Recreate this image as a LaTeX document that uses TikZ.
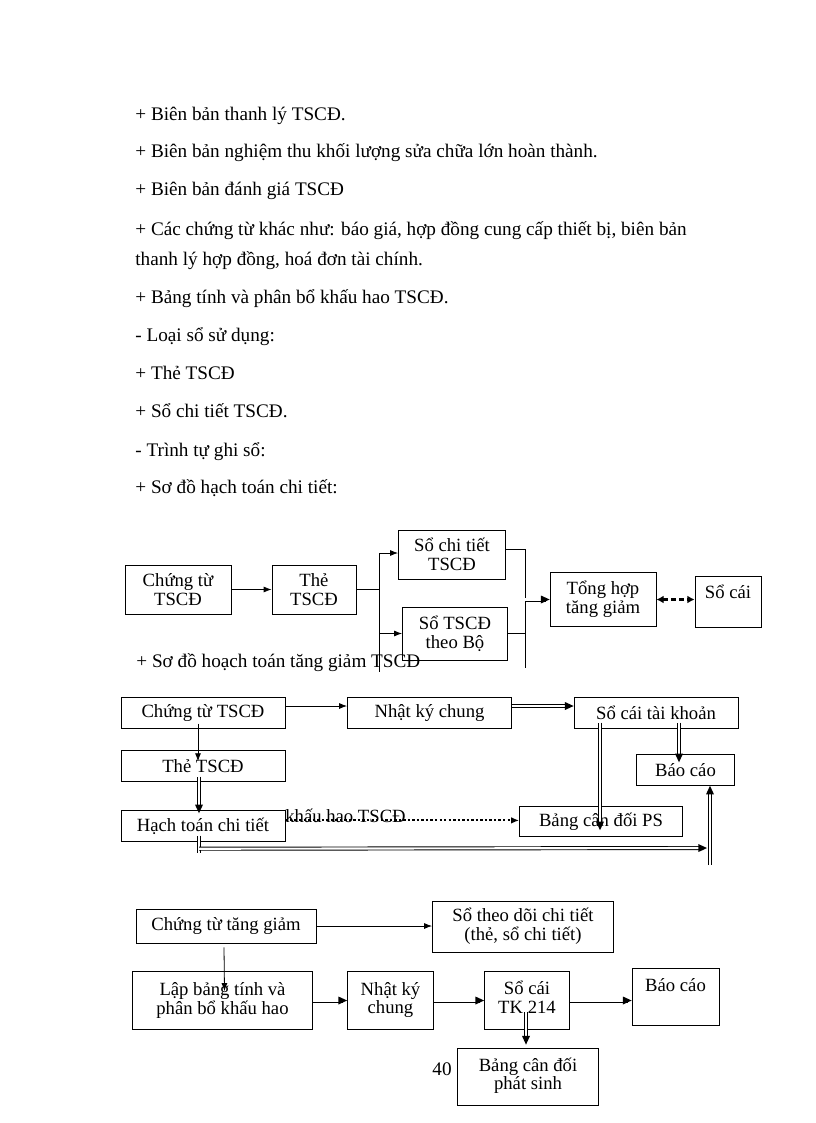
\documentclass[tikz,border=0pt]{standalone}
\usepackage{fontspec}
\setmainfont{Liberation Serif}
\usetikzlibrary{calc,arrows.meta,decorations.markings}

\begin{document}
\begin{tikzpicture}[
            x=0.75pt, y=-0.75pt,
            font=\fontsize{14}{14}\selectfont,
            line width=0.6pt,
            arr/.style={-{Latex[length=6pt,width=4.5pt]}},
            dbl/.style={double, double distance=1.6pt, line width=0.7pt},
            dblarr/.style={dbl, shorten >=3pt, postaction={draw=none, decorate, decoration={markings, mark=at position 1 with {\fill (0,0) -- (-6.5pt,3pt) -- (-6.5pt,-3pt) -- cycle;}}}},
            dasharr/.style={line width=1.7pt, dash pattern=on 3.5pt off 2.5pt, {Latex[length=5.5pt,width=6pt]}-{Latex[length=5.5pt,width=6pt]}},
            dotarr/.style={line width=1.4pt, dash pattern=on 1.8pt off 1.6pt, -{Latex[length=6pt,width=5pt]}},
            txt/.style={anchor=base west, inner sep=0pt, font=\fontsize{14.4}{14.4}\selectfont}
        ]
            \useasboundingbox (0,0) rectangle (816,1123);

            % text above the diagrams
            \node [txt] (p1)  at (135,121) {+ Biên bản thanh lý TSCĐ.};
            \node [txt] (p2)  at (135,158) {+ Biên bản nghiệm thu khối lượng sửa chữa lớn hoàn thành.};
            \node [txt] (p3)  at (135,196) {+ Biên bản đánh giá TSCĐ};
            \node [txt] (p4)  at (135,235) {+ Các chứng từ khác như: báo giá, hợp đồng cung cấp thiết bị, biên bản};
            \node [txt] (p5)  at (135,265) {thanh lý hợp đồng, hoá đơn tài chính.};
            \node [txt] (p6)  at (135,303) {+ Bảng tính và phân bổ khấu hao TSCĐ.};
            \node [txt] (p7)  at (135,341) {- Loại sổ sử dụng:};
            \node [txt] (p8)  at (135,379) {+ Thẻ TSCĐ};
            \node [txt] (p9)  at (135,417) {+ Sổ chi tiết TSCĐ.};
            \node [txt] (p10) at (135,456) {- Trình tự ghi sổ:};
            \node [txt] (p11) at (135,493) {+ Sơ đồ hạch toán chi tiết:};

            % first diagram
            \begin{scope}[
                every node/.style={draw,align=center,inner sep=1pt}
            ]
                \node (c1) [minimum width=79.5pt,minimum height=36.75pt] at (178,589.5) {Chứng từ\\TSCĐ};
                \node (t1) [minimum width=63pt,minimum height=36.75pt]   at (314,589.5) {Thẻ\\TSCĐ};
                \node (s1) [minimum width=80.25pt,minimum height=36.75pt] at (452,554.5) {Sổ chi tiết\\TSCĐ};
                \node (s2) [minimum width=78.75pt,minimum height=39.75pt] at (455,633.5) {Sổ TSCĐ\\theo Bộ};
                \node (th) [minimum width=79.5pt,minimum height=40.5pt]  at (603,599.5) {Tổng hợp\\tăng giảm};
                \node (sc) [minimum width=49.5pt,minimum height=38.25pt,text height=10pt,text depth=14.5pt] at (728,601.5) {Sổ cái};
            \end{scope}
            \coordinate (b1t) at (379,553);
            \coordinate (b1b) at (379,672);
            \coordinate (b2t) at (525,549);
            \coordinate (b2b) at (525,668);
            \draw [arr]     (c1) -- (t1);
            \draw           (t1.east) -- (t1.east -| b1t);
            \draw           (b1t) -- (b1b);
            \draw [arr]     (b1t) -- (b1t -| s1.west);
            \draw [arr]     (s2.west -| b1t) -- (s2.west);
            \draw           (s1.east |- b2t) -- (b2t);
            \draw           (s2.east) -- (s2.east -| b2t);
            \draw           (b2t) -- (b2b);
            \draw [dblarr]  (th.west -| b2t) -- (th.west);
            \draw [dasharr] (th.east) -- (th.east -| sc.west);
            \node [txt] (p12) at (136,667) {+ Sơ đồ hoạch toán tăng giảm TSCĐ};

            % second diagram
            \begin{scope}[
                every node/.style={draw,align=center,inner sep=1pt,minimum width=123pt,minimum height=23pt}
            ]
                \node (ct2) at (203,713)              {Chứng từ TSCĐ};
                \node (nk2) at (429.5,713)            {Nhật ký chung};
                \node (sc2) at (656,713)              {Sổ cái tài khoản};
                \node (th2) at (203,766)              {Thẻ TSCĐ};
                \node (hc2) at (203,826)              {Hạch toán chi tiết};
                \node (bp2) [minimum width=122.25pt] at (601,821.5) {Bảng cân đối PS};
                \node (bc2) [minimum width=73.5pt]   at (685.5,770) {Báo cáo};
            \end{scope}
            \node [txt,font=\fontsize{14}{14}\selectfont] (kh) at (285,822) {khấu hao TSCĐ};
            \coordinate (hcb) at (199,853);
            \coordinate (hr)  at (707,848);
            \coordinate (rb)  at (710,865);
            \draw [arr]    ([yshift=5.25pt]ct2.east) -- ([yshift=5.25pt]nk2.west);
            \draw [dblarr] ([yshift=5.25pt]nk2.east) -- ([yshift=5.25pt]sc2.west);
            \draw [arr]    ($(ct2.south)+(-5,-5)$) -- ($(th2.north)+(-5,11)$);
            \draw [dblarr] ($(th2.south)+(-4,-5)$) -- ($(hc2.north)+(-4,3)$);
            \draw [dbl]    ($(hc2.south)+(-4,-6)$) -- (hcb);
            \draw [dblarr] ($(hc2.south)+(-4,7)$) -- (hr);
            \draw [dblarr] (rb) -- (rb |- bc2.south);
            \draw [dblarr] ($(sc2.south)+(23,-6)$) -- ($(bc2.north)+(-6.5,8)$);
            \draw [dblarr] ($(sc2.south)+(-56,-6)$) -- ($(bp2.south)+(-1,-7)$);
            \draw [dotarr] ([yshift=4.2pt]hc2.east) -- ([yshift=4.2pt]hc2.east -| bp2.west);

            % third diagram
            \begin{scope}[
                every node/.style={draw,align=center,inner sep=1pt}
            ]
                \node (ct3) [minimum width=135pt,minimum height=25.5pt]    at (226,926)    {Chứng từ tăng giảm};
                \node (sd3) [minimum width=135.75pt,minimum height=38.25pt] at (523,926.5)  {Sổ theo dõi chi tiết\\(thẻ, sổ chi tiết)};
                \node (lb3) [minimum width=135pt,minimum height=43.5pt]    at (222.5,1000.5) {Lập bảng tính và\\phân bổ khấu hao};
                \node (nk3) [minimum width=64.5pt,minimum height=43.5pt,text depth=4pt]   at (390.5,1000.5) {Nhật ký\\chung};
                \node (sc3) [minimum width=63.75pt,minimum height=43.5pt,text depth=5pt]  at (527,1000.5)   {Sổ cái\\TK 214};
                \node (bc3) [minimum width=65.25pt,minimum height=42.75pt,text height=10pt,text depth=19pt] at (675.5,997) {Báo cáo};
                \node (bd3) [minimum width=105.75pt,minimum height=42.75pt,text depth=4pt] at (528,1076.5)  {Bảng cân đối\\phát sinh};
            \end{scope}
            \draw [arr]    (ct3.east) -- (ct3.east -| sd3.west);
            \draw [arr]    ($(ct3.south)+(-2,4)$) -- ($(lb3.north)+(2,20)$);
            \draw [dblarr] (lb3.east) -- (nk3.west);
            \draw [dblarr] (nk3.east) -- (sc3.west);
            \draw [dblarr] (sc3.east) -- (sc3.east -| bc3.west);
            \draw [dblarr] ($(sc3.south)+(-1,-18)$) -- ($(bd3.north)+(-2,-3)$);
            \node [txt] (pg) at (432,1075) {40};
        \end{tikzpicture}
\end{document}
